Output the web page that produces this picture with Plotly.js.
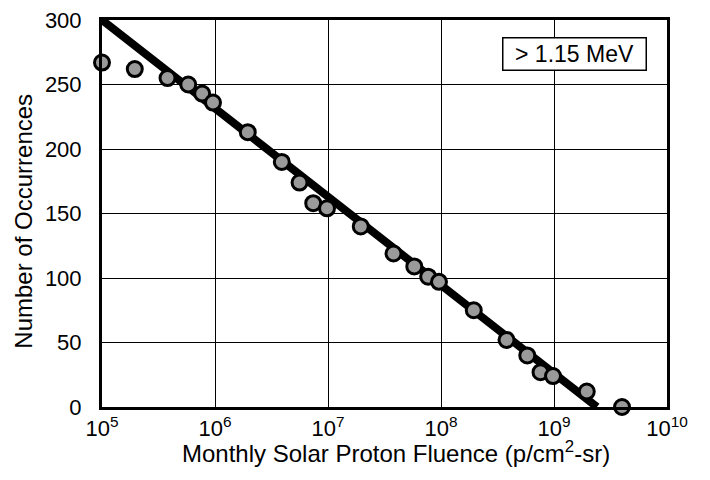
<!DOCTYPE html>
<html>
<head>
<meta charset="utf-8">
<script src="https://cdn.plot.ly/plotly-3.0.1.min.js"></script>
<style>html,body{margin:0;padding:0;background:#fff;}#chart{width:710px;height:480px;}</style>
</head>
<body>
<div id="chart"></div>
<script>
// Observed data: monthly fluence (p/cm2-sr) vs number of occurrences
const fluence = [1e5, 1.95e5, 3.8e5, 5.8e5, 7.7e5, 9.6e5, 1.95e6, 3.9e6, 5.6e6, 7.4e6, 9.8e6,
                 1.95e7, 3.8e7, 5.8e7, 7.7e7, 9.6e7, 1.95e8, 3.8e8, 5.8e8, 7.6e8, 9.8e8, 1.95e9, 4e9];
const occurrences = [267, 262, 255, 250, 243, 236, 213, 190, 174, 158, 154,
                     140, 119, 109, 101, 97, 75, 52, 40, 27, 24, 12, 0];
// Fitted line endpoints
const fitX = [1e5, 2.4e9];
const fitY = [300, 0];
const yTicks = [0, 50, 100, 150, 200, 250, 300];
const xTicks = [1e5, 1e6, 1e7, 1e8, 1e9, 1e10];
const xTickText = ['10<sup>5</sup>', '10<sup>6</sup>', '10<sup>7</sup>', '10<sup>8</sup>', '10<sup>9</sup>', '10<sup>10</sup>'];
const labelText = '&gt; 1.15 MeV';
const xTitle = 'Monthly Solar Proton Fluence (p/cm<sup>2</sup>-sr)';
const yTitle = 'Number of Occurrences';

const font = 'Liberation Sans, Arial, Helvetica, sans-serif';

const traces = [
  {x: fitX, y: fitY, mode: 'lines', line: {color: '#000', width: 8}, hoverinfo: 'skip', showlegend: false, cliponaxis: false},
  {x: fluence, y: occurrences, mode: 'markers', cliponaxis: false, showlegend: false,
   marker: {size: 15, color: '#9a9a9a', line: {color: '#000', width: 3}}}
];

const layout = {
  width: 710, height: 480,
  margin: {l: 102, r: 43, t: 20, b: 73},
  paper_bgcolor: '#fff', plot_bgcolor: '#fff',
  font: {family: font, color: '#000', size: 22},
  showlegend: false,
  xaxis: {
    type: 'log', range: [5, 10],
    tickvals: xTicks, ticktext: xTickText,
    showgrid: true, gridcolor: '#000', gridwidth: 1,
    showline: true, linecolor: '#000', linewidth: 3, mirror: true,
    ticks: '', ticklabelstandoff: 0, zeroline: false,
    tickfont: {size: 22}
  },
  yaxis: {
    range: [0, 300], tickvals: yTicks,
    showgrid: true, gridcolor: '#000', gridwidth: 1,
    showline: true, linecolor: '#000', linewidth: 3, mirror: true,
    ticks: '', ticklabelstandoff: 13, zeroline: false,
    tickfont: {size: 22}
  },
  annotations: [
    {
      xref: 'paper', yref: 'paper', x: 0.9646, y: 0.956, xanchor: 'right', yanchor: 'top',
      text: labelText, showarrow: false, font: {size: 23},
      width: 140, height: 29, align: 'center', valign: 'middle',
      bgcolor: '#fff', bordercolor: '#000', borderwidth: 1.5, borderpad: 1
    },
    {
      xref: 'paper', yref: 'paper', x: 0.520, y: -0.117, xanchor: 'center', yanchor: 'middle',
      text: xTitle, showarrow: false, font: {size: 24}
    },
    {
      xref: 'paper', yref: 'paper', x: -0.138, y: 0.479, xanchor: 'center', yanchor: 'middle',
      text: yTitle, textangle: -90, showarrow: false, font: {size: 24}
    }
  ]
};

Plotly.newPlot('chart', traces, layout, {displayModeBar: false, staticPlot: true});
</script>
</body>
</html>
